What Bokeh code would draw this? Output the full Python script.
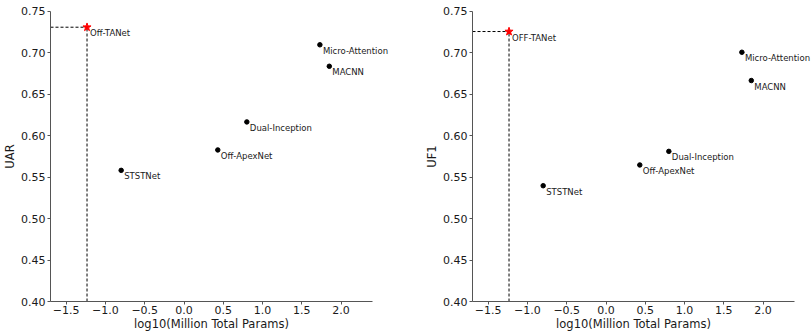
from bokeh.plotting import figure
from bokeh.layouts import row
from bokeh.models import ColumnDataSource, Label, Range1d, FixedTicker
from bokeh.embed import file_html
from bokeh.resources import INLINE

# Data
models = ["Micro-Attention", "MACNN", "Dual-Inception", "Off-ApexNet", "STSTNet"]
log_params = [1.73, 1.85, 0.80, 0.43, -0.80]
uar = [0.7095, 0.6836, 0.6165, 0.5827, 0.5581]
uf1 = [0.7005, 0.6664, 0.5810, 0.5646, 0.5396]

ours_x = [-1.235]
ours_uar = [0.7307]
ours_uf1 = [0.7255]
ours_name_left = ["Off-TANet"]
ours_name_right = ["OFF-TANet"]

x_ticks = [-1.5, -1.0, -0.5, 0.0, 0.5, 1.0, 1.5, 2.0]
y_ticks = [0.40, 0.45, 0.50, 0.55, 0.60, 0.65, 0.70, 0.75]

# axis extents
X_START, X_END = -1.70, 2.40
Y_START, Y_END = 0.40, 0.75

# layout (pixels)
H = 333
AXIS_PX = 322.0
PX_X = AXIS_PX / (X_END - X_START)
Y_TOP_OFF, Y_BOT_OFF = 10.7, 301.0
PX_Y = (Y_BOT_OFF - Y_TOP_OFF) / (Y_END - Y_START)
FONT = "DejaVu Sans"
AX_COLOR = "#555555"
TXT_COLOR = "#1a1a1a"


def make_fig(yvals, ours_y, ours_name, ylabel, width, axis_off):
    x_lo = X_START - axis_off / PX_X
    x_hi = X_START + (width - axis_off) / PX_X
    y_hi = Y_END + Y_TOP_OFF / PX_Y
    y_lo = Y_START - (H - Y_BOT_OFF) / PX_Y
    p = figure(width=width, height=H, output_backend="svg", toolbar_location=None,
               x_range=Range1d(x_lo, x_hi), y_range=Range1d(y_lo, y_hi),
               min_border=0)
    p.outline_line_color = None
    p.grid.visible = False
    p.background_fill_color = "white"
    p.border_fill_color = "white"

    for ax in (p.xaxis, p.yaxis):
        ax.axis_line_color = AX_COLOR
        ax.axis_line_width = 1
        ax.major_tick_line_color = AX_COLOR
        ax.major_tick_in = 0
        ax.major_tick_out = 3
        ax.minor_tick_line_color = None
        ax.major_label_text_font = FONT
        ax.major_label_text_font_size = "11px"
        ax.major_label_text_color = TXT_COLOR
        ax.axis_label_text_font = FONT
        ax.axis_label_text_font_size = "11.5px"
        ax.axis_label_text_font_style = "normal"
        ax.axis_label_text_color = TXT_COLOR
    p.xaxis.major_label_standoff = 1
    p.xaxis.axis_label_standoff = 0
    p.yaxis.major_label_standoff = 2
    p.yaxis.axis_label_standoff = 1

    p.xaxis.fixed_location = Y_START
    p.yaxis.fixed_location = X_START
    p.xaxis.bounds = (X_START, X_END)
    p.yaxis.bounds = (Y_START, Y_END)
    p.xaxis.ticker = FixedTicker(ticks=x_ticks)
    p.yaxis.ticker = FixedTicker(ticks=y_ticks)
    p.xaxis.major_label_overrides = {t: f"{t:.1f}".replace("-", "\u2212") for t in x_ticks}
    p.yaxis.major_label_overrides = {t: f"{t:.2f}" for t in y_ticks}
    p.xaxis.axis_label = "log10(Million Total Params)"
    p.yaxis.axis_label = ylabel

    # dashed guide lines
    p.segment(x0=[X_START], y0=ours_y, x1=ours_x, y1=ours_y,
              line_color="black", line_dash="3 2", line_width=1)
    p.segment(x0=ours_x, y0=[Y_START], x1=ours_x, y1=ours_y,
              line_color="black", line_dash="3 2", line_width=1)

    src = ColumnDataSource(dict(x=log_params, y=yvals, name=models))
    p.scatter("x", "y", source=src, size=4.5, color="black")
    osrc = ColumnDataSource(dict(x=ours_x, y=ours_y, name=ours_name))
    p.scatter("x", "y", source=osrc, marker="star", size=8.5, color="red")

    for xs, ys, names in ((log_params, yvals, models), (ours_x, ours_y, ours_name)):
        for xv, yv, nm in zip(xs, ys, names):
            p.add_layout(Label(x=xv, y=yv, text=nm, x_offset=3, y_offset=-1,
                               text_baseline="top", text_align="left",
                               text_font=FONT, text_font_size="8.5px",
                               text_color=TXT_COLOR))
    return p


p1 = make_fig(uar, ours_uar, ours_name_left, "UAR", 400, 50)
p2 = make_fig(uf1, ours_uf1, ours_name_right, "UF1", 411, 72)

layout = row(p1, p2)
open("out.html", "w").write(file_html(layout, INLINE))
